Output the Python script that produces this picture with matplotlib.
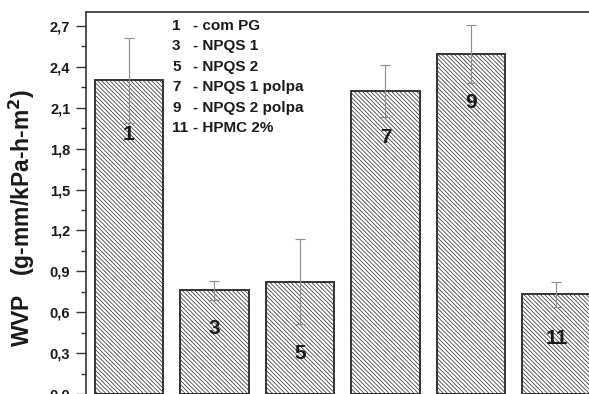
import numpy as np
import matplotlib
matplotlib.use("Agg")
import matplotlib.pyplot as plt
from matplotlib.ticker import MultipleLocator, FuncFormatter

plt.rcParams['font.family'] = ['Liberation Sans', 'DejaVu Sans']
plt.rcParams['mathtext.default'] = 'bf'
plt.rcParams['hatch.color'] = '#909090'
plt.rcParams['hatch.linewidth'] = 0.55

# Sample positions, WVP means and standard deviations
samples = [1, 3, 5, 7, 9, 11]
wvp = [2.30, 0.76, 0.825, 2.22, 2.495, 0.73]
wvp_err = [0.31, 0.07, 0.31, 0.19, 0.215, 0.09]
label_y = [1.90, 0.48, 0.30, 1.88, 2.14, 0.41]

legend_ids = ['1', '3', '5', '7', '9', '11']
legend_names = ['- com PG', '- NPQS 1', '- NPQS 2', '- NPQS 1 polpa',
                '- NPQS 2 polpa', '- HPMC 2%']

fig = plt.figure(figsize=(5.89, 3.94), dpi=100)
ax = fig.add_axes([86 / 589, 0.0, 1 - 86 / 589, 1 - 12.3 / 394])

ax.bar(samples, wvp, width=1.6, color='white', edgecolor='#333333',
       linewidth=1.4, hatch='\\' * 8, zorder=2)
ax.errorbar(samples, wvp, yerr=wvp_err, fmt='none', ecolor='#8c8c8c',
            elinewidth=0.8, capsize=3.5, capthick=0.8, zorder=3)

for s, y in zip(samples, label_y):
    ax.text(s, y, str(s), ha='center', va='center', fontsize=15,
            fontweight='bold', color='#1a1a1a', zorder=4)

for i, (num, name) in enumerate(zip(legend_ids, legend_names)):
    yy = 0.964 - i * 0.0534
    ax.text(0.171, yy, num, transform=ax.transAxes, ha='left', va='center',
            fontsize=11, fontweight='bold', color='#1a1a1a')
    ax.text(0.213, yy, name, transform=ax.transAxes, ha='left', va='center',
            fontsize=11, fontweight='bold', color='#1a1a1a')

ax.set_xlim(0, 11.76)
ax.set_ylim(0, 2.8)
ax.yaxis.set_major_locator(MultipleLocator(0.3))
ax.yaxis.set_minor_locator(MultipleLocator(0.15))
ax.yaxis.set_major_formatter(FuncFormatter(lambda v, p: f"{v:.1f}".replace('.', ',')))
ax.tick_params(axis='y', which='major', direction='out', length=7, width=1,
               pad=4.3, labelsize=10.5, colors='#333333')
ax.tick_params(axis='y', which='minor', direction='out', length=3.5, width=1,
               colors='#333333')
for lab in ax.get_yticklabels():
    lab.set_fontweight('bold')
    lab.set_color('#1a1a1a')
ax.set_xticks([])
for side in ['right', 'bottom']:
    ax.spines[side].set_visible(False)
for side in ['left', 'top']:
    ax.spines[side].set_color('#333333')
    ax.spines[side].set_linewidth(1.2)

ax.set_ylabel(r'WVP   (g-mm/kPa-h-m$^2$)', fontsize=16.5,
              fontweight='bold', color='#1a1a1a')
ax.yaxis.set_label_coords(-0.097, 0.461)

fig.savefig('out.png', dpi=100)
